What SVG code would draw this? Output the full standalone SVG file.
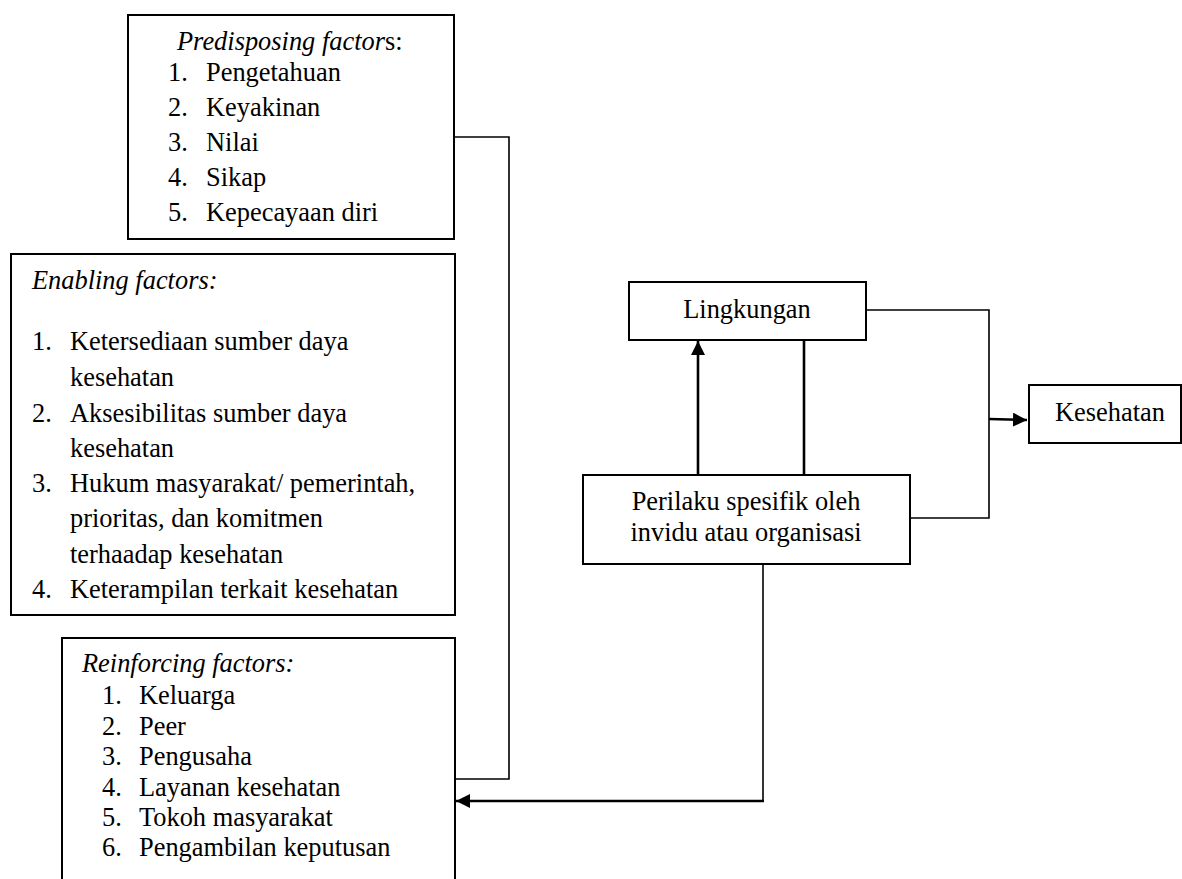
<svg xmlns="http://www.w3.org/2000/svg" width="1182" height="879" viewBox="0 0 1182 879">
  <style>
    .box { fill: #ffffff; stroke: #000000; stroke-width: 2; }
    .t { font-family: "Liberation Serif", "Times New Roman", serif; font-size: 26.4px; fill: #000000; }
    .it { font-style: italic; }
    .mid { text-anchor: middle; }
    .wire { fill: none; stroke: #000000; stroke-width: 1.6; }
    .wire-b { fill: none; stroke: #000000; stroke-width: 2.6; }
  </style>
  <defs>
    <marker id="head" viewBox="0 0 14 14" refX="14" refY="7" markerWidth="14" markerHeight="14" markerUnits="userSpaceOnUse" orient="auto">
      <path d="M0,0 L14,7 L0,14 z" fill="#000000"/>
    </marker>
  </defs>
  <rect width="1182" height="879" fill="#ffffff"/>

  <!-- connectors -->
  <g id="connectors">
    <!-- predisposing -> reinforcing side -->
    <polyline class="wire" points="454,137 509,137 509,779 455,779"/>
    <!-- behaviour -> reinforcing -->
    <polyline class="wire" points="763,564 763,801"/>
    <line class="wire-b" x1="764" y1="801" x2="456" y2="801" marker-end="url(#head)"/>
    <!-- behaviour -> environment -->
    <line class="wire-b" x1="698" y1="475" x2="698" y2="341" marker-end="url(#head)"/>
    <line class="wire-b" x1="804" y1="475" x2="804" y2="340"/>
    <!-- environment & behaviour -> health -->
    <polyline class="wire" points="866,310 989,310 989,518 910,518"/>
    <line class="wire-b" x1="989" y1="419" x2="1027" y2="420" marker-end="url(#head)"/>
  </g>

  <!-- predisposing factors -->
  <g id="predisposing">
    <rect class="box" x="128" y="15" width="326" height="224"/>
    <text class="t" x="177" y="50"><tspan class="it">Predisposing factor</tspan>s:</text>
    <text class="t" x="168" y="81">1.</text><text class="t" x="206" y="81">Pengetahuan</text>
    <text class="t" x="168" y="116">2.</text><text class="t" x="206" y="116">Keyakinan</text>
    <text class="t" x="168" y="151">3.</text><text class="t" x="206" y="151">Nilai</text>
    <text class="t" x="168" y="186">4.</text><text class="t" x="206" y="186">Sikap</text>
    <text class="t" x="168" y="221">5.</text><text class="t" x="206" y="221">Kepecayaan diri</text>
  </g>

  <!-- enabling factors -->
  <g id="enabling">
    <rect class="box" x="11" y="254" width="444" height="361"/>
    <text class="t it" x="32" y="289">Enabling factors:</text>
    <text class="t" x="32" y="350">1.</text><text class="t" x="70" y="350">Ketersediaan sumber daya</text>
    <text class="t" x="70" y="386">kesehatan</text>
    <text class="t" x="32" y="422">2.</text><text class="t" x="70" y="422">Aksesibilitas sumber daya</text>
    <text class="t" x="70" y="457">kesehatan</text>
    <text class="t" x="32" y="492">3.</text><text class="t" x="70" y="492">Hukum masyarakat/ pemerintah,</text>
    <text class="t" x="70" y="527">prioritas, dan komitmen</text>
    <text class="t" x="70" y="563">terhaadap kesehatan</text>
    <text class="t" x="32" y="598">4.</text><text class="t" x="70" y="598">Keterampilan terkait kesehatan</text>
  </g>

  <!-- reinforcing factors -->
  <g id="reinforcing">
    <rect class="box" x="62" y="638" width="393" height="260"/>
    <text class="t it" x="82" y="672">Reinforcing factors:</text>
    <text class="t" x="102" y="704">1.</text><text class="t" x="139" y="704">Keluarga</text>
    <text class="t" x="102" y="735">2.</text><text class="t" x="139" y="735">Peer</text>
    <text class="t" x="102" y="765">3.</text><text class="t" x="139" y="765">Pengusaha</text>
    <text class="t" x="102" y="796">4.</text><text class="t" x="139" y="796">Layanan kesehatan</text>
    <text class="t" x="102" y="826">5.</text><text class="t" x="139" y="826">Tokoh masyarakat</text>
    <text class="t" x="102" y="856">6.</text><text class="t" x="139" y="856">Pengambilan keputusan</text>
  </g>

  <!-- environment -->
  <g id="lingkungan">
    <rect class="box" x="629" y="282" width="237" height="58"/>
    <text class="t mid" x="747" y="318">Lingkungan</text>
  </g>

  <!-- specific behaviour -->
  <g id="perilaku">
    <rect class="box" x="583" y="475" width="327" height="89"/>
    <text class="t mid" x="746" y="510">Perilaku spesifik oleh</text>
    <text class="t mid" x="746" y="541">invidu atau organisasi</text>
  </g>

  <!-- health -->
  <g id="kesehatan">
    <rect class="box" x="1029" y="385" width="152" height="58"/>
    <text class="t mid" x="1110" y="421">Kesehatan</text>
  </g>
</svg>
